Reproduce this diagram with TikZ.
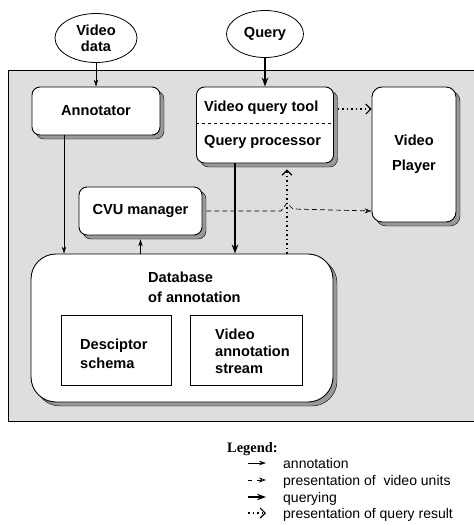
\documentclass[tikz,border=0pt]{standalone}
\usepackage{fontspec}
\setmainfont{Liberation Sans}
\newfontfamily\legendfont{Liberation Serif}
\usetikzlibrary{shapes.geometric, arrows.meta, positioning, shadows}

\newcommand{\boxfont}{\fontsize{14.6}{18}\selectfont\bfseries}
\newcommand{\itemfont}{\fontsize{14}{17}\selectfont}

\definecolor{stipple}{gray}{0.87}
\definecolor{shade}{gray}{0.6}

\tikzstyle{source} = [ellipse, draw=black, line width=0.8pt, fill=white, inner sep=0pt, align=center, font=\boxfont]
\tikzstyle{block} = [rectangle, rounded corners=8pt, draw=black, line width=0.9pt, fill=white, align=center, font=\boxfont, drop shadow={shadow xshift=4pt, shadow yshift=-4pt, fill=shade, draw=black, line width=0.4pt, opacity=1}]
\tikzstyle{part} = [rectangle, draw=black, line width=0.8pt, fill=white]
\tikzset{
	annotarrow/.style={line width=0.6pt, -{Stealth[length=7pt, width=4.5pt]}},
	queryarrow/.style={line width=1.4pt, -{Stealth[length=9pt, width=6.5pt]}},
	unitarrow/.style={line width=0.7pt, dash pattern=on 5pt off 3pt, -{Stealth[open, length=7pt, width=5pt]}},
	resultarrow/.style={line width=1.1pt, dash pattern=on 1.5pt off 3pt, -{Straight Barb[length=5pt, width=10pt]}},
	tag/.style={anchor=west, align=left, font=\boxfont, inner sep=0pt},
	item/.style={anchor=base west, font=\itemfont, inner sep=0pt}
}

\begin{document}
\begin{tikzpicture}[x=1pt, y=-1pt]
	\useasboundingbox (0,0) rectangle (474,525);
	
	% Backdrop
	\fill [stipple] (8,70) rectangle (474,421);
	\draw [line width=0.8pt] (474,70) -- (8,70) -- (8,421) -- (474,421);
	
	% Nodes
	\node (viddata) [source, minimum width=82pt, minimum height=49pt] at (96,38) {Video\\[-2pt]data};
	\node (query) [source, minimum width=77pt, minimum height=47pt] at (265,34) {Query};
	\node (annot) [block, minimum width=128pt, minimum height=48pt] at (96,111) {Annotator};
	\node (vqt) [block, minimum width=137pt, minimum height=76pt] at (265,125) {};
	\node (vqttool) [tag] at (204,108) {Video query tool};
	\node (vqtproc) [tag] at (204,142) {Query processor};
	\node (player) [block, rounded corners=10pt, minimum width=84pt, minimum height=135pt] at (414,154.5) {Video\\[7pt]Player};
	\node (cvu) [block, minimum width=123pt, minimum height=48pt] at (140.5,211) {CVU manager};
	\node (db) [block, rounded corners=25pt, minimum width=302pt, minimum height=148pt] at (182,328) {};
	\node (dbtitle) [tag] at (148,287) {Database\\[2pt]of annotation};
	\node (desc) [part, minimum width=110pt, minimum height=70pt] at (116,350) {};
	\node (desctext) [tag] at (80,353.5) {Desciptor\\[1pt]schema};
	\node (vas) [part, minimum width=112pt, minimum height=70pt] at (246,350) {};
	\node (vastext) [tag] at (215,351) {Video\\[-1pt]annotation\\[-1pt]stream};
	
	% Divider
	\draw [dashed, line width=0.7pt] ([yshift=2pt]vqt.west) -- ([yshift=2pt]vqt.east);
	
	% Arrows
	\draw [annotarrow] (viddata) -- (annot);
	\draw [queryarrow] (query) -- (vqt);
	\draw [annotarrow] ([xshift=-32pt]annot.south) -- ([xshift=-32pt]annot.south |- db.north);
	\draw [queryarrow] ([xshift=-30pt]vqt.south) -- ([xshift=-30pt]vqt.south |- db.north);
	\draw [resultarrow] ([xshift=22pt]vqt.south |- db.north) -- ([xshift=22pt, yshift=-6pt]vqt.south);
	\draw [annotarrow] (db.north -| cvu.south) -- ([yshift=-4pt]cvu.south);
	\coordinate (tooltap) at ([xshift=4pt, yshift=16pt]vqt.east);
	\draw [resultarrow] (tooltap) -- (tooltap -| player.west);
	\coordinate (hop) at ([xshift=22pt]vqt.south |- cvu.east);
	\draw [unitarrow] ([xshift=4pt]cvu.east) -- ([xshift=-6pt]hop) -- ([yshift=8pt]hop) -- ([xshift=6pt, yshift=2pt]hop) -- (hop -| player.west);
	
	% Legend
	\node (legend) [anchor=base west, font=\legendfont\fontsize{14.4}{17}\selectfont\bfseries, inner sep=0pt] at (227,452) {Legend:};
	\coordinate (k1) at (248,463); \coordinate (k1e) at (266,463);
	\coordinate (k2) at (248,480); \coordinate (k2e) at (266,480);
	\coordinate (k3) at (248,497); \coordinate (k3e) at (266,497);
	\coordinate (k4) at (248,513); \coordinate (k4e) at (266,513);
	\draw [annotarrow] (k1) -- (k1e);
	\draw [unitarrow, dash pattern=on 4pt off 5pt] (k2) -- (k2e);
	\draw [queryarrow] (k3) -- (k3e);
	\draw [resultarrow] (k4) -- (k4e);
	\node (t1) [item] at (283,468) {annotation};
	\node (t2) [item] at (283,485) {presentation of \ video units};
	\node (t3) [item] at (283,502) {querying};
	\node (t4) [item] at (283,518) {presentation of query result};
	
\end{tikzpicture}
\end{document}
